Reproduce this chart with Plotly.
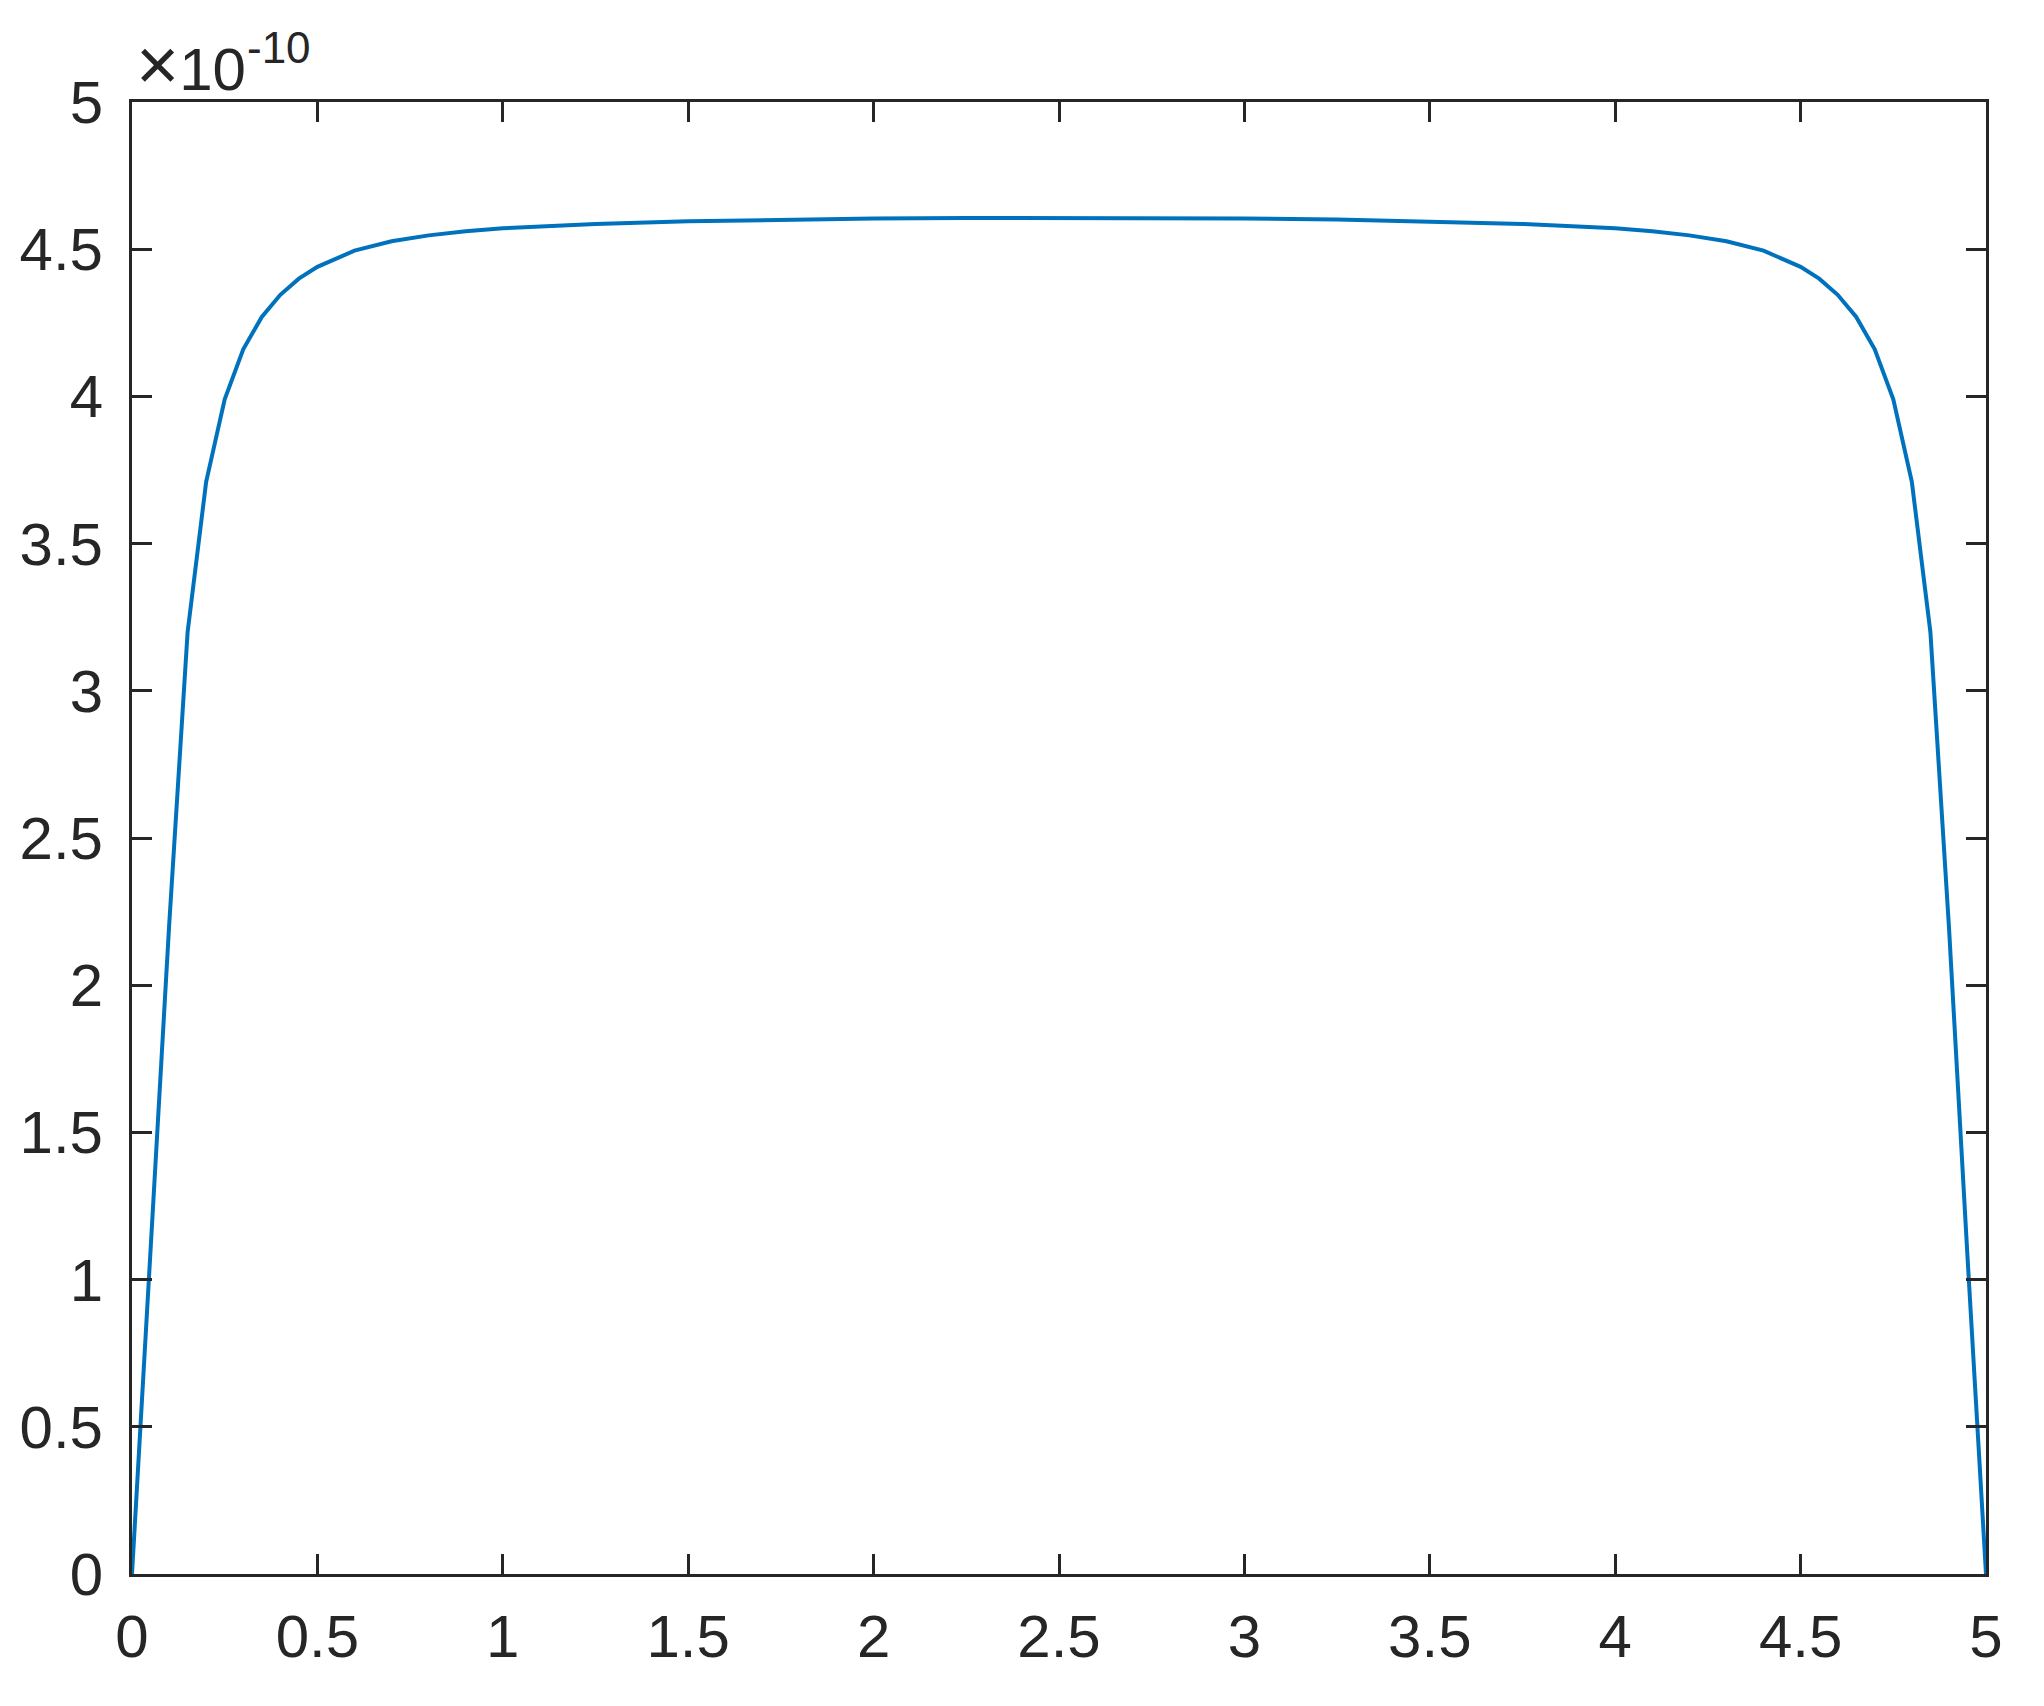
import plotly.graph_objects as go

# curve values, y in units of 1e-10
x_vals = [0, 0.05, 0.1, 0.15, 0.2, 0.25, 0.3, 0.35, 0.4, 0.45, 0.5, 0.6, 0.7, 0.8, 0.9, 1.0,
          1.25, 1.5, 1.75, 2.0, 2.25, 2.5, 2.75, 3.0, 3.25, 3.5, 3.75,
          4.0, 4.1, 4.2, 4.3, 4.4, 4.5, 4.55, 4.6, 4.65, 4.7, 4.75, 4.8, 4.85, 4.9, 4.95, 5.0]
y_vals = [0, 1.08, 2.2, 3.2, 3.71, 3.99, 4.16, 4.27, 4.345, 4.40, 4.44, 4.495, 4.527, 4.547, 4.561, 4.571,
          4.586, 4.595, 4.601, 4.604, 4.606, 4.606, 4.606, 4.604, 4.601, 4.595, 4.586,
          4.571, 4.561, 4.547, 4.527, 4.495, 4.44, 4.40, 4.345, 4.27, 4.16, 3.99, 3.71, 3.2, 2.2, 1.08, 0]

x_ticks = [0, 0.5, 1, 1.5, 2, 2.5, 3, 3.5, 4, 4.5, 5]
y_ticks = [0, 0.5, 1, 1.5, 2, 2.5, 3, 3.5, 4, 4.5, 5]
exp_base = "<span style='font-size:74px'>×</span>10"
exp_power = "-10"

AXIS_COLOR = "#262626"
FONT = "Liberation Sans, Arial, Helvetica, sans-serif"

fig = go.Figure()
fig.add_trace(go.Scatter(x=x_vals, y=y_vals, mode="lines",
                         line=dict(color="#0072BD", width=4), showlegend=False))

axis_style = dict(
    showgrid=False, zeroline=False,
    showline=True, linecolor=AXIS_COLOR, linewidth=3,
    mirror="allticks", ticks="inside", ticklen=20, tickwidth=3, tickcolor=AXIS_COLOR,
    tickfont=dict(family=FONT, size=60, color=AXIS_COLOR),
)

fig.update_xaxes(range=[0, 5], tickvals=x_ticks, ticklabelstandoff=8, **axis_style)
fig.update_yaxes(range=[0, 5], tickvals=y_ticks, ticklabelstandoff=14, **axis_style)

# MATLAB-style exponent label above the top-left corner
fig.add_annotation(text=exp_base, xref="paper", yref="paper", x=0, y=1,
                   xanchor="left", yanchor="bottom", xshift=2, yshift=-6, showarrow=False,
                   font=dict(family=FONT, size=60, color=AXIS_COLOR))
fig.add_annotation(text=exp_power, xref="paper", yref="paper", x=0, y=1,
                   xanchor="left", yanchor="bottom", xshift=113, yshift=28, showarrow=False,
                   font=dict(family=FONT, size=44, color=AXIS_COLOR))

fig.update_layout(
    width=2044, height=1706,
    margin=dict(l=117, r=66, t=94, b=140),
    plot_bgcolor="white", paper_bgcolor="white",
)

fig.write_html("out.html")
